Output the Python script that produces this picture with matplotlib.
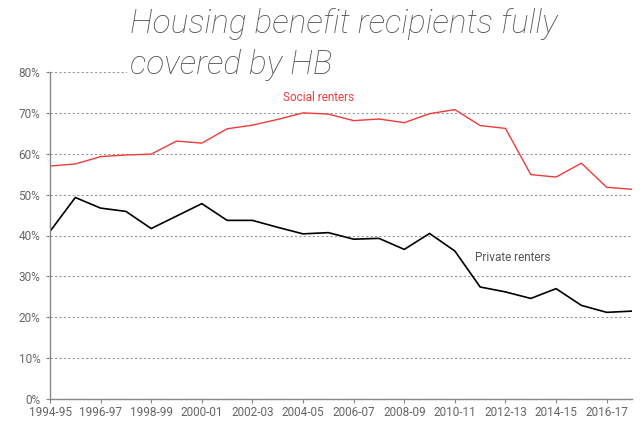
import matplotlib
matplotlib.use("Agg")
import matplotlib.pyplot as plt
from matplotlib.ticker import FuncFormatter, MultipleLocator
from matplotlib.patches import Rectangle

years = ["1994-95", "1995-96", "1996-97", "1997-98", "1998-99", "1999-00", "2000-01",
         "2001-02", "2002-03", "2003-04", "2004-05", "2005-06", "2006-07", "2007-08",
         "2008-09", "2009-10", "2010-11", "2011-12", "2012-13", "2013-14", "2014-15",
         "2015-16", "2016-17", "2017-18"]
social = [57.0, 57.5, 59.3, 59.7, 59.9, 63.1, 62.6, 66.1, 67.0, 68.4, 70.0, 69.7,
          68.1, 68.5, 67.6, 69.8, 70.8, 66.9, 66.2, 54.9, 54.3, 57.7, 51.8, 51.3]
private = [41.0, 49.3, 46.7, 45.9, 41.7, 44.75, 47.8, 43.7, 43.7, 42.0, 40.4, 40.7,
           39.1, 39.3, 36.6, 40.5, 36.2, 27.4, 26.2, 24.6, 27.0, 22.9, 21.2, 21.5]
title_lines = ["Housing benefit recipients fully", "covered by HB"]

grey = "#666666"
W, H = 642, 421
fig = plt.figure(figsize=(W/100, H/100), dpi=100)
ax = fig.add_axes([50/W, 22/H, (632-50)/W, (399-72)/H])
x = list(range(len(years)))
ax.plot(x, social, color="#ee3b3b", lw=1.0)
ax.plot(x, private, color="black", lw=1.2)
ax.set_xlim(0, len(years) - 1)
ax.set_ylim(0, 80)
ax.yaxis.set_major_locator(MultipleLocator(10))
ax.yaxis.set_major_formatter(FuncFormatter(lambda v, p: f"{v:.0f}%"))
ax.set_xticks(x[::2])
ax.set_xticklabels(years[::2])
ax.grid(axis="y", color="#999999", linestyle=(0, (2, 2)), lw=0.8)
ax.set_axisbelow(True)
for s in ["top", "right"]:
    ax.spines[s].set_visible(False)
for s in ["left", "bottom"]:
    ax.spines[s].set_color("#888888")
    ax.spines[s].set_linewidth(1.0)
ax.tick_params(colors="#888888", labelcolor=grey, labelsize=8.5, length=3,
               labelfontfamily="Roboto")
ax.tick_params(axis="y", pad=4)
ax.tick_params(axis="x", pad=2)

ax.text(10.6, 73.8, "Social renters", color="#ee3b3b", fontsize=8.5,
        family="Roboto", ha="center", va="center")
ax.text(18.3, 34.7, "Private renters", color="#555555", fontsize=8.5,
        family="Roboto", ha="center", va="center")

# white panel behind the title (hides the top gridline, as in the original)
fig.patches.append(Rectangle((127/W, 1 - 82/H), 1 - 127/W, 82/H,
                             transform=fig.transFigure, facecolor="white",
                             edgecolor="none", zorder=3))
for line, base in zip(title_lines, [33, 74]):
    fig.text(130/W, 1 - base/H, line, family="Roboto", style="italic",
             weight="light", fontsize=24, color="#555555",
             ha="left", va="baseline", zorder=5)

fig.savefig("out.png", dpi=100)
